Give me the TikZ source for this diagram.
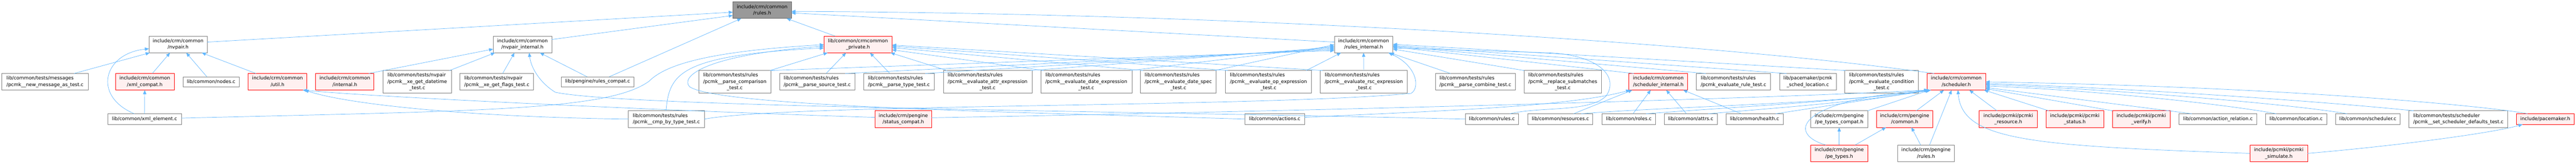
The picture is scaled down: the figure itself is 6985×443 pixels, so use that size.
\documentclass[tikz,border=0pt]{standalone}
\usepackage{fontspec}
\newfontfamily\dvs{DejaVu Sans}
\usetikzlibrary{arrows.meta,calc}
\definecolor{edgeblue}{HTML}{63B8FF}
\definecolor{boxgray}{HTML}{7F7F7F}
\definecolor{boxred}{HTML}{FF0000}
\definecolor{boxpink}{HTML}{FFF0F0}
\definecolor{rootgray}{HTML}{999999}
\definecolor{rootborder}{HTML}{666666}
\newcommand\nfont{\dvs\fontsize{13}{17}\selectfont\setbox\strutbox\hbox{\vrule height 12pt depth 5pt width 0pt}}
\newcommand\twoL[2]{\begin{tabular}{@{}l@{}}#1\\\multicolumn{1}{@{}c@{}}{#2}\end{tabular}}
\newcommand\threeL[3]{\begin{tabular}{@{}l@{}}#1\\#2\\\multicolumn{1}{@{}c@{}}{#3}\end{tabular}}
\tikzset{
  nb/.style={draw=boxgray, fill=white, line width=1pt, inner sep=0pt, outer sep=0pt, anchor=north west, font=\nfont},
  rb/.style={nb, draw=boxred, fill=boxpink},
  gb/.style={nb, draw=rootborder, fill=rootgray},
  e/.style={draw=edgeblue, line width=1pt, -{Triangle[length=11pt,width=9pt]}}
}
\begin{document}
\begin{tikzpicture}[x=1pt,y=-1pt]
\fill[white] (0,0) rectangle (6985,443);
\useasboundingbox (0,0) rectangle (6985,443);
% row 0/1
\node[gb,minimum width=159pt,minimum height=45pt] (rules) at (1987,5) {\twoL{include/crm/common}{/rules.h}};
\node[nb,minimum width=158pt,minimum height=45pt] (nvpair) at (404,98) {\twoL{include/crm/common}{/nvpair.h}};
\node[nb,minimum width=159pt,minimum height=45pt] (nvpairint) at (1337,98) {\twoL{include/crm/common}{/nvpair\_internal.h}};
\node[rb,minimum width=185pt,minimum height=45pt] (private) at (2234,98) {\twoL{lib/common/crmcommon}{\_private.h}};
\node[nb,minimum width=159pt,minimum height=45pt] (rulesint) at (3618,98) {\twoL{include/crm/common}{/rules\_internal.h}};
% row 2
\node[nb,minimum width=234pt,minimum height=45pt] (newmsg) at (5,199) {\twoL{lib/common/tests/messages}{/pcmk\_\_new\_message\_as\_test.c}};
\node[rb,minimum width=159pt,minimum height=45pt] (xmlcompat) at (313,199) {\twoL{include/crm/common}{/xml\_compat.h}};
\node[nb,minimum width=153pt,minimum height=27pt] (nodes) at (496,208) {lib/common/nodes.c};
\node[rb,minimum width=159pt,minimum height=45pt] (util) at (673,199) {\twoL{include/crm/common}{/util.h}};
\node[rb,minimum width=158pt,minimum height=45pt] (internal) at (856,199) {\twoL{include/crm/common}{/internal.h}};
\node[nb,minimum width=185pt,minimum height=61pt] (datetime) at (1039,191) {\threeL{lib/common/tests/nvpair}{/pcmk\_\_xe\_get\_datetime}{\_test.c}};
\node[nb,minimum width=200pt,minimum height=45pt] (flags) at (1247,199) {\twoL{lib/common/tests/nvpair}{/pcmk\_\_xe\_get\_flags\_test.c}};
\node[nb,minimum width=197pt,minimum height=27pt] (rulescompat) at (1522,208) {lib/pengine/rules\_compat.c};
\node[nb,minimum width=195pt,minimum height=61pt] (parsecomp) at (1895,191) {\threeL{lib/common/tests/rules}{/pcmk\_\_parse\_comparison}{\_test.c}};
\node[nb,minimum width=204pt,minimum height=45pt] (parsesrc) at (2114,199) {\twoL{lib/common/tests/rules}{/pcmk\_\_parse\_source\_test.c}};
\node[nb,minimum width=191pt,minimum height=45pt] (parsetype) at (2342,199) {\twoL{lib/common/tests/rules}{/pcmk\_\_parse\_type\_test.c}};
\node[nb,minimum width=240pt,minimum height=61pt] (attrexpr) at (2558,191) {\threeL{lib/common/tests/rules}{/pcmk\_\_evaluate\_attr\_expression}{\_test.c}};
\node[nb,minimum width=247pt,minimum height=61pt] (dateexpr) at (2822,191) {\threeL{lib/common/tests/rules}{/pcmk\_\_evaluate\_date\_expression}{\_test.c}};
\node[nb,minimum width=206pt,minimum height=61pt] (datespec) at (3092,191) {\threeL{lib/common/tests/rules}{/pcmk\_\_evaluate\_date\_spec}{\_test.c}};
\node[nb,minimum width=233pt,minimum height=61pt] (opexpr) at (3323,191) {\threeL{lib/common/tests/rules}{/pcmk\_\_evaluate\_op\_expression}{\_test.c}};
\node[nb,minimum width=236pt,minimum height=61pt] (rscexpr) at (3580,191) {\threeL{lib/common/tests/rules}{/pcmk\_\_evaluate\_rsc\_expression}{\_test.c}};
\node[nb,minimum width=217pt,minimum height=45pt] (parsecombine) at (3892,199) {\twoL{lib/common/tests/rules}{/pcmk\_\_parse\_combine\_test.c}};
\node[nb,minimum width=209pt,minimum height=61pt] (replacesub) at (4133,191) {\threeL{lib/common/tests/rules}{/pcmk\_\_replace\_submatches}{\_test.c}};
\node[rb,minimum width=159pt,minimum height=45pt] (schedint) at (4417,199) {\twoL{include/crm/common}{/scheduler\_internal.h}};
\node[nb,minimum width=201pt,minimum height=45pt] (evalrule) at (4600,199) {\twoL{lib/common/tests/rules}{/pcmk\_evaluate\_rule\_test.c}};
\node[nb,minimum width=154pt,minimum height=45pt] (schedloc) at (4825,199) {\twoL{lib/pacemaker/pcmk}{\_sched\_location.c}};
\node[nb,minimum width=200pt,minimum height=61pt] (evalcond) at (5002,191) {\threeL{lib/common/tests/rules}{/pcmk\_\_evaluate\_condition}{\_test.c}};
\node[rb,minimum width=159pt,minimum height=45pt] (scheduler) at (5225,199) {\twoL{include/crm/common}{/scheduler.h}};
% row 3
\node[nb,minimum width=200pt,minimum height=29pt] (xmlelement) at (292,308) {lib/common/xml\_element.c};
\node[nb,minimum width=206pt,minimum height=45pt] (cmpbytype) at (1704,300) {\twoL{lib/common/tests/rules}{/pcmk\_\_cmp\_by\_type\_test.c}};
\node[rb,minimum width=153pt,minimum height=45pt] (statuscompat) at (2373,300) {\twoL{include/crm/pengine}{/status\_compat.h}};
\node[nb,minimum width=161pt,minimum height=29pt] (actions) at (3376,308) {lib/common/actions.c};
\node[nb,minimum width=145pt,minimum height=29pt] (rulesc) at (3973,308) {lib/common/rules.c};
\node[nb,minimum width=176pt,minimum height=29pt] (resources) at (4143,308) {lib/common/resources.c};
\node[nb,minimum width=145pt,minimum height=29pt] (roles) at (4344,308) {lib/common/roles.c};
\node[nb,minimum width=143pt,minimum height=29pt] (attrs) at (4513,308) {lib/common/attrs.c};
\node[nb,minimum width=155pt,minimum height=29pt] (health) at (4680,308) {lib/common/health.c};
\node[nb,minimum width=154pt,minimum height=45pt] (petypescompat) at (4910,300) {\twoL{include/crm/pengine}{/pe\_types\_compat.h}};
\node[rb,minimum width=153pt,minimum height=45pt] (pecommon) at (5088,300) {\twoL{include/crm/pengine}{/common.h}};
\node[rb,minimum width=157pt,minimum height=45pt] (pcmkires) at (5367,300) {\twoL{include/pcmki/pcmki}{\_resource.h}};
\node[rb,minimum width=156pt,minimum height=45pt] (pcmkistatus) at (5548,300) {\twoL{include/pcmki/pcmki}{\_status.h}};
\node[rb,minimum width=156pt,minimum height=45pt] (pcmkiverify) at (5728,300) {\twoL{include/pcmki/pcmki}{\_verify.h}};
\node[nb,minimum width=210pt,minimum height=29pt] (actionrel) at (5909,308) {lib/common/action\_relation.c};
\node[nb,minimum width=166pt,minimum height=29pt] (location) at (6143,308) {lib/common/location.c};
\node[nb,minimum width=175pt,minimum height=29pt] (schedulerc) at (6333,308) {lib/common/scheduler.c};
\node[nb,minimum width=268pt,minimum height=45pt] (setdefaults) at (6532,300) {\twoL{lib/common/tests/scheduler}{/pcmk\_\_set\_scheduler\_defaults\_test.c}};
\node[rb,minimum width=157pt,minimum height=29pt] (pacemaker) at (6823,308) {include/pacemaker.h};
% row 4
\node[rb,minimum width=154pt,minimum height=45pt] (petypes) at (4910,393) {\twoL{include/crm/pengine}{/pe\_types.h}};
\node[nb,minimum width=153pt,minimum height=45pt] (penginerules) at (5146,393) {\twoL{include/crm/pengine}{/rules.h}};
\node[rb,minimum width=156pt,minimum height=45pt] (pcmkisim) at (6101,393) {\twoL{include/pcmki/pcmki}{\_simulate.h}};

% edges into rules.h
\draw[e] ([yshift=-16pt]nvpair.north east) -- ([yshift=-28pt]rules.north west);
\draw[e] ([yshift=-9pt]nvpairint.north east) -- ([yshift=-37pt]rules.north west);
\draw[e] ([xshift=31pt]private.north west) -- ([xshift=146pt]rules.south west);
\draw[e] ([yshift=-16pt]rulesint.north west) -- ([yshift=-30pt]rules.north east);
\draw[e] ([xshift=19pt]scheduler.north west) .. controls (4600,110) and (3300,35) .. ([yshift=-26pt]rules.north east);
\draw[e] ([xshift=130pt]rulescompat.north west) -- ([xshift=23pt]rules.south west);
% nvpair.h
\draw[e] ([xshift=196pt]newmsg.north west) -- ([xshift=2pt]nvpair.south west);
\draw[e] ([xshift=72pt]xmlelement.north west) .. controls (250,260) and (280,145) .. ([yshift=-34pt]nvpair.north west);
\draw[e] ([xshift=100pt]xmlcompat.north west) -- ([xshift=57pt]nvpair.south west);
\draw[e] ([xshift=65pt]nodes.north west) -- ([xshift=101pt]nvpair.south west);
\draw[e] ([xshift=21pt]util.north west) -- ([xshift=143pt]nvpair.south west);
\draw[e] (xmlelement.north) -- (xmlcompat.south);
% nvpair_internal.h
\draw[e] ([xshift=144pt]internal.north west) -- ([yshift=-35pt]nvpairint.north west);
\draw[e] ([xshift=-5pt]datetime.north east) -- ([xshift=5pt]nvpairint.south west);
\draw[e] ([xshift=116pt]flags.north west) -- ([xshift=58pt]nvpairint.south west);
\draw[e] ([xshift=70pt]rulescompat.north west) -- ([xshift=127pt]nvpairint.south west);
\draw[e] (rulesc.west) .. controls (3000,300) and (1700,290) .. (1506,250) .. controls (1465,225) and (1440,185) .. ([xshift=98pt]nvpairint.south west);
% util.h
\draw[e] (cmpbytype.west) .. controls (1300,318) and (950,285) .. ([xshift=153pt]util.south west);
\draw[e] ([yshift=-18pt]statuscompat.north west) .. controls (1800,300) and (1000,262) .. ([xshift=148pt]util.south west);
% crmcommon_private.h
\draw[e] ([yshift=-12pt]xmlelement.north east) .. controls (1300,300) and (1650,300) .. (1760,220) .. controls (1800,180) and (1900,140) .. ([yshift=-23pt]private.north west);
\draw[e] ([xshift=102pt]cmpbytype.north west) .. controls (1815,200) and (1840,150) .. ([yshift=-32pt]private.north west);
\draw[e] (actions.west) .. controls (2800,305) and (1950,290) .. (1870,235) .. controls (1845,210) and (1900,150) .. ([yshift=-27pt]private.north west);
\draw[e] ([xshift=193pt]parsecomp.north west) -- ([xshift=10pt]private.south west);
\draw[e] ([xshift=126pt]parsesrc.north west) -- ([xshift=60pt]private.south west);
\draw[e] ([xshift=71pt]parsetype.north west) -- ([xshift=125pt]private.south west);
\draw[e] ([xshift=10pt]attrexpr.north west) -- ([xshift=-4pt]private.south east);
\draw[e] ([xshift=8pt]dateexpr.north west) -- ([yshift=-37pt]private.north east);
\draw[e] ([xshift=8pt]datespec.north west) -- ([yshift=-31pt]private.north east);
\draw[e] ([xshift=7pt]opexpr.north west) -- ([yshift=-27pt]private.north east);
\draw[e] ([xshift=7pt]rscexpr.north west) -- ([yshift=-24pt]private.north east);
% rules_internal.h
\draw[e] ([xshift=-2pt]parsecomp.north east) -- ([yshift=-39pt]rulesint.north west);
\draw[e] ([xshift=178pt]parsesrc.north west) -- ([yshift=-36pt]rulesint.north west);
\draw[e] ([xshift=167pt]parsetype.north west) -- ([yshift=-33pt]rulesint.north west);
\draw[e] ([xshift=-4pt]attrexpr.north east) -- ([yshift=-30pt]rulesint.north west);
\draw[e] ([xshift=-4pt]dateexpr.north east) -- ([yshift=-27pt]rulesint.north west);
\draw[e] ([xshift=-4pt]datespec.north east) -- ([yshift=-23pt]rulesint.north west);
\draw[e] ([xshift=-14pt]opexpr.north east) -- ([xshift=18pt]rulesint.south west);
\draw[e] (rscexpr.north) -- (rulesint.south);
\draw[e] ([xshift=41pt]parsecombine.north west) -- ([xshift=-8pt]rulesint.south east);
\draw[e] (cmpbytype.east) .. controls (2150,280) and (3400,292) .. (3826,253) .. controls (3850,240) and (3845,180) .. ([xshift=-12pt]rulesint.south east);
\draw[e] ([xshift=121pt]rulesc.north west) .. controls (4180,288) and (4310,305) .. (4355,260) .. controls (4390,210) and (4340,150) .. (4200,143) -- ([yshift=-32pt]rulesint.north east);
\draw[e] (replacesub.north west) -- ([yshift=-35pt]rulesint.north east);
\draw[e] ([xshift=13pt]schedint.north west) -- ([yshift=-29pt]rulesint.north east);
\draw[e] ([xshift=25pt]evalrule.north west) -- ([yshift=-27pt]rulesint.north east);
\draw[e] ([xshift=19pt]schedloc.north west) -- ([yshift=-25pt]rulesint.north east);
\draw[e] ([xshift=3pt]evalcond.north west) -- ([yshift=-22pt]rulesint.north east);
% scheduler_internal.h
\draw[e] ([xshift=124pt]resources.north west) -- ([xshift=9pt]schedint.south west);
\draw[e] ([xshift=84pt]roles.north west) -- ([xshift=59pt]schedint.south west);
\draw[e] ([xshift=60pt]attrs.north west) -- ([xshift=101pt]schedint.south west);
\draw[e] ([xshift=42pt]health.north west) -- ([xshift=147pt]schedint.south west);
\draw[e] ([yshift=-10pt]actions.north east) .. controls (3900,300) and (4250,290) .. ([xshift=3pt]schedint.south west);
% scheduler.h
\draw[e] ([xshift=-31pt]resources.north east) .. controls (4500,290) and (5000,280) .. ([xshift=5pt]scheduler.south west);
\draw[e] ([xshift=-25pt]roles.north east) .. controls (4700,290) and (5000,275) .. ([xshift=7pt]scheduler.south west);
\draw[e] ([xshift=-24pt]attrs.north east) .. controls (4850,290) and (5050,275) .. ([xshift=9pt]scheduler.south west);
\draw[e] ([xshift=-20pt]health.north east) -- ([xshift=11pt]scheduler.south west);
\draw[e] ([yshift=-19pt]statuscompat.north east) .. controls (3300,305) and (4600,275) .. ([xshift=3pt]scheduler.south west);
\draw[e] (petypescompat.north east) -- ([xshift=7pt]scheduler.south west);
\draw[e] ([xshift=108pt]pecommon.north west) -- ([xshift=46pt]scheduler.south west);
\draw[e] ([xshift=41pt]petypes.north west) .. controls (4840,360) and (4880,270) .. ([xshift=4pt]scheduler.south west);
\draw[e] ([xshift=86pt]penginerules.north west) -- ([xshift=67pt]scheduler.south west);
\draw[e] ([xshift=48pt]pcmkires.north west) -- ([xshift=115pt]scheduler.south west);
\draw[e] ([xshift=7pt]pcmkistatus.north west) -- ([xshift=-4pt]scheduler.south east);
\draw[e] (pcmkiverify.north west) -- ([yshift=-41pt]scheduler.north east);
\draw[e] ([xshift=34pt]actionrel.north west) -- ([yshift=-38pt]scheduler.north east);
\draw[e] ([xshift=29pt]location.north west) .. controls (6050,285) and (5700,245) .. ([yshift=-34pt]scheduler.north east);
\draw[e] ([xshift=31pt]schedulerc.north west) .. controls (6200,280) and (5700,240) .. ([yshift=-30pt]scheduler.north east);
\draw[e] ([xshift=13pt]setdefaults.north west) .. controls (6300,275) and (5800,240) .. ([yshift=-27pt]scheduler.north east);
\draw[e] ([xshift=30pt]pacemaker.north west) .. controls (6750,288) and (6200,235) .. ([yshift=-23pt]scheduler.north east);
\draw[e] (pcmkisim.west) .. controls (5500,395) and (5320,380) .. ([xshift=84pt]scheduler.south west);
\draw[e] (pcmkisim.east) .. controls (6500,395) and (6760,360) .. ([xshift=17pt]pacemaker.south west);
% pengine
\draw[e] (petypes.north) -- (petypescompat.south);
\draw[e] ([xshift=120pt]petypes.north west) -- ([xshift=26pt]pecommon.south west);
\draw[e] ([xshift=62pt]penginerules.north west) -- ([xshift=95pt]pecommon.south west);
\end{tikzpicture}
\end{document}
